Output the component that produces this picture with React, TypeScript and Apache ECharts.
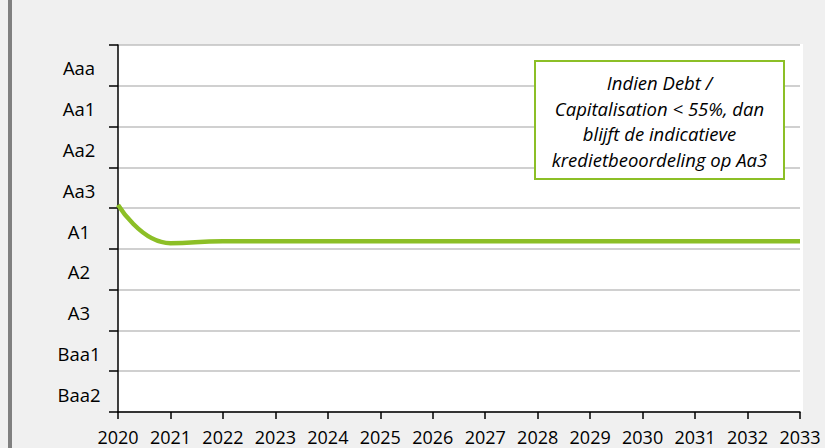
import React, { useEffect, useRef } from "react";
import * as echarts from "echarts";

const ratings = ["Baa2", "Baa1", "A3", "A2", "A1", "Aa3", "Aa2", "Aa1", "Aaa"];
const years = [2020, 2021, 2022, 2023, 2024, 2025, 2026, 2027, 2028, 2029, 2030, 2031, 2032, 2033];
const ratingLevel = [5.08, 4.14, 4.19, 4.19, 4.19, 4.19, 4.19, 4.19, 4.19, 4.19, 4.19, 4.19, 4.19, 4.19];
const noteLines = [
  "Indien Debt /",
  "Capitalisation < 55%, dan",
  "blijft de indicatieve",
  "kredietbeoordeling op Aa3",
];

const GREEN = "#8cbf26";
const FONT = "'Open Sans', 'Noto Sans', sans-serif";

export default function App() {
  const ref = useRef<HTMLDivElement>(null);
  useEffect(() => {
    if (!ref.current) return;
    const chart = echarts.init(ref.current, null, { renderer: "svg" });
    chart.setOption({
      animation: false,
      backgroundColor: "#f0f0f0",
      textStyle: { fontFamily: FONT },
      grid: {
        left: 118,
        right: 25,
        top: 45,
        bottom: 36,
        show: true,
        backgroundColor: "#ffffff",
        borderWidth: 0,
      },
      xAxis: {
        type: "value",
        min: 2020,
        max: 2033,
        interval: 1,
        axisLine: { show: true, onZero: false, lineStyle: { color: "#000", width: 1.5 } },
        axisTick: { show: true, inside: false, length: 7, lineStyle: { color: "#000", width: 1.5 } },
        splitLine: { show: false },
        axisLabel: {
          color: "#000",
          fontSize: 18,
          fontFamily: FONT,
          margin: 16,
          showMinLabel: true,
          showMaxLabel: true,
          formatter: (v: number) => String(v),
        },
      },
      yAxis: [
        {
          type: "category",
          data: ratings,
          boundaryGap: true,
          axisLine: { show: true, lineStyle: { color: "#000", width: 1.5 } },
          axisTick: { show: true, inside: false, length: 9, lineStyle: { color: "#000", width: 1.5 } },
          splitLine: { show: true, lineStyle: { color: "#c0c0c0", width: 1.5 } },
          axisLabel: {
            color: "#000",
            fontSize: 18.5,
            fontFamily: FONT,
            align: "center",
            margin: 39,
            formatter: (v: string) => "{r|" + v + "}",
            rich: {
              r: {
                color: "#000",
                fontSize: 18.5,
                fontFamily: FONT,
                padding: [5, 0, 0, 0],
              },
            },
          },
        },
        {
          type: "value",
          min: 0,
          max: 9,
          show: false,
        },
      ],
      graphic: [
        { type: "rect", shape: { x: 8, y: 0, width: 4, height: 448 }, style: { fill: "#808080" } },
        { type: "rect", shape: { x: 800, y: 44, width: 3, height: 368 }, style: { fill: "#ffffff" } },
        {
          type: "rect",
          z: 100,
          shape: { x: 535, y: 61, width: 249, height: 118 },
          style: { fill: "#ffffff", stroke: GREEN, lineWidth: 2 },
        },
        {
          type: "text",
          z: 101,
          x: 659.5,
          y: 121,
          style: {
            text: noteLines.join("\n"),
            fill: "#000",
            fontSize: 18.5,
            fontStyle: "italic",
            fontFamily: FONT,
            lineHeight: 25.5,
            align: "center",
            verticalAlign: "middle",
          },
        },
      ],
      series: [
        {
          type: "line",
          yAxisIndex: 1,
          data: years.map((y, i) => [y, ratingLevel[i]]),
          smooth: 0.5,
          symbol: "none",
          lineStyle: { color: GREEN, width: 4.5 },
          z: 3,
        },
      ],
    });
    return () => chart.dispose();
  }, []);
  return (
    <div
      ref={ref}
      style={{ position: "fixed", left: 0, top: 0, width: 825, height: 448 }}
    />
  );
}
